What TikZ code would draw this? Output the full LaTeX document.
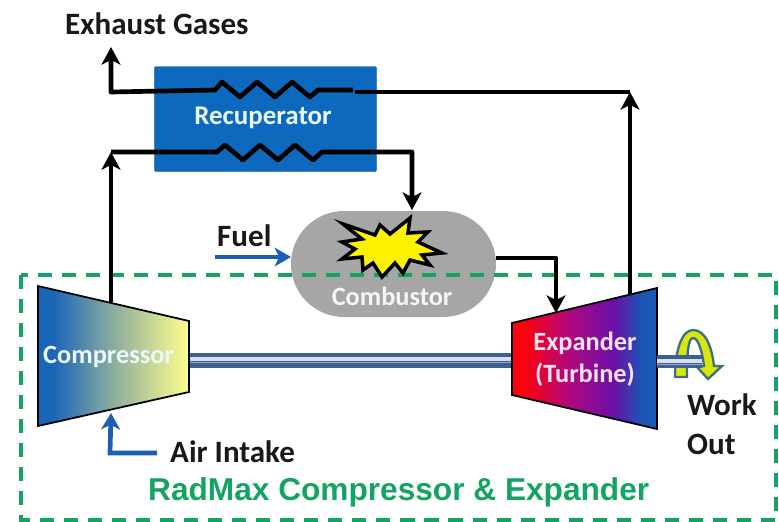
\documentclass[tikz,border=0pt]{standalone}
\usepackage{fontspec}
\setmainfont{Carlito}
\newfontfamily\radfont{Liberation Sans}
\usepgflibrary{arrows.meta}
\definecolor{recblue}{HTML}{0C69BE}
\definecolor{fuelblue}{HTML}{1B5FB5}
\definecolor{burngray}{HTML}{A6A6A6}
\definecolor{boxgreen}{HTML}{14A461}
\definecolor{shaftblue}{HTML}{3D5F92}
\definecolor{wheelblue}{HTML}{1560B5}
\definecolor{workedge}{HTML}{3F6F80}
\pgfdeclarehorizontalshading{expshade}{100bp}{rgb(0bp)=(1,0,0); rgb(29bp)=(1,0,.05); rgb(45bp)=(.68,.03,.5); rgb(60bp)=(.42,.06,.66); rgb(70bp)=(.1,.34,.71); rgb(100bp)=(.08,.38,.71)}
\pgfdeclarehorizontalshading{compshade}{100bp}{rgb(0bp)=(.08,.38,.71); rgb(30bp)=(.1,.4,.72); rgb(50bp)=(.55,.68,.62); rgb(75bp)=(1,1,.55); rgb(100bp)=(1,1,.55)}
\tikzset{
  pipe/.style={line width=4pt,black,line join=round},
  pipetip/.style={-{Stealth[length=15pt,width=16pt,inset=4pt]}},
  feed/.style={line width=4pt,fuelblue,-{Stealth[length=14pt,width=16pt,inset=4pt]}},
  darklabel/.style={font=\fontsize{26.5}{30}\selectfont\bfseries,text=black!90,inner sep=0pt},
  lightlabel/.style={font=\fontsize{22.5}{26}\selectfont\bfseries,inner sep=0pt},
}
\def\myshaft#1#2#3#4{
  % 1: x from
  % 2: x to
  % 3: y top
  % 4: y bottom
  \fill[shaftblue] (#1,#3) rectangle (#2,#4);
  \fill[white!80!shaftblue] (#1,#3+4) rectangle (#2,#3+7.5);
  \fill[white!45!shaftblue] (#1,#3+8.5) rectangle (#2,#3+10);
}
\begin{document}
\begin{tikzpicture}[x=.03cm,y=-.03cm]
    \useasboundingbox (0,0) rectangle (779,521);

    \node[fill=recblue,draw=recblue!85!black,rounded corners=1pt,minimum width=6.66cm,minimum height=3.15cm,outer sep=0pt] (recuperator) at (265.5,119) {};
    \node[fill=burngray,rounded corners=1.59cm,minimum width=6.15cm,minimum height=3.18cm,outer sep=0pt] (combustor) at (393.5,264) {};

    \draw[boxgreen,line width=2.8pt,dash pattern=on 12pt off 8.5pt] (21,275) rectangle (776,520);

    % pipe ends
    \coordinate (compout) at (111,302);
    \coordinate (compin) at (111,413);
    \coordinate (exhaust) at (111,47);
    \coordinate (hotin) at (355,92);
    \coordinate (hotcorner) at (630,92);
    \coordinate (expout) at (630,298);
    \coordinate (burnout) at (496,258);
    \coordinate (expin) at (556,313);
    \coordinate (coldin) at (111,152);
    \coordinate (airstart) at (157,453);
    \coordinate (fuelstart) at (215,257);

    \draw[pipe,pipetip] (expout) -- (hotcorner);
    \draw[pipe] (hotcorner) -- (hotin);
    \draw[pipe,pipetip] (353,90) -- (318,90) -- (310,97) -- (292,82) -- (275,97) -- (257,82) -- (240,97) -- (222,82) -- (215,90) -- (111,92) -- (exhaust);
    \draw[pipe,pipetip] (compout) -- (coldin);
    \draw[pipe,pipetip] (coldin) -- (217,152) -- (225,145) -- (243,160) -- (260,145) -- (278,160) -- (295,145) -- (313,160) -- (322,152) -- (412,152) -- (412,210);
    \draw[pipe,pipetip] (burnout) -- (556,258) -- (expin);

    \draw[black,line width=3pt,fill=yellow,line join=miter] (343,224) -- (375,235) -- (380,225) -- (390,234) -- (410,218) -- (408,233) -- (428,232) -- (418,242) -- (442,253) -- (422,255) -- (430,265) -- (410,260) -- (403,273) -- (395,263) -- (382,277) -- (373,263) -- (363,270) -- (362,257) -- (342,259) -- (355,249) -- (342,242) -- (362,239) -- cycle;

    \myshaft{189}{512}{353}{368}

    \draw[black,line width=1.5pt,shading=compshade] (38,286) -- (189,321) -- (189,392) -- (38,426) -- cycle;
    \draw[black,line width=1.5pt,shading=expshade] (512,323) -- (657,288) -- (657,429) -- (512,395) -- cycle;

    \draw[workedge,line width=2pt,fill=yellow!85!green] (675,377) .. controls (675,350) and (682,330) .. (693,330) .. controls (706,330) and (712,348) .. (714,366) -- (722,366) -- (708,379) -- (697,367) -- (704,366) .. controls (702,350) and (698,338) .. (693,338) .. controls (688,338) and (687,355) .. (687,377) -- cycle;
    \myshaft{657}{702}{355}{368}

    \draw[feed] (fuelstart) -- (fuelstart -| combustor.west);
    \draw[feed] (airstart) -- (110,453) -- (compin);

    \node[darklabel,anchor=west] (exhaustlabel) at (65,24) {Exhaust Gases};
    \node[darklabel,anchor=west] (fuellabel) at (217,236) {Fuel};
    \node[darklabel,anchor=west] (airlabel) at (170,452) {Air Intake};
    \node[darklabel,anchor=west] (worklabel) at (687,405) {Work};
    \node[darklabel,anchor=west] (outlabel) at (687,444) {Out};
    \node[lightlabel,font=\fontsize{23}{26}\selectfont\bfseries,text=cyan!8] (recuperatorlabel) at (263,118) {Recuperator};
    \node[lightlabel,text=white!92!gray] (combustorlabel) at (392,296) {Combustor};
    \node[lightlabel,text=cyan!8,anchor=west] (compressorlabel) at (43,357) {Compressor};
    \node[lightlabel,text=white!88!magenta] (expanderlabel) at (585,343) {Expander};
    \node[lightlabel,text=white!88!magenta] (turbinelabel) at (585,375) {(Turbine)};
    \node[anchor=west,inner sep=0pt,text=boxgreen,font=\radfont\fontsize{27}{30}\selectfont\bfseries] (radmaxlabel) at (148,492) {RadMax Compressor \& Expander};
\end{tikzpicture}
\end{document}
